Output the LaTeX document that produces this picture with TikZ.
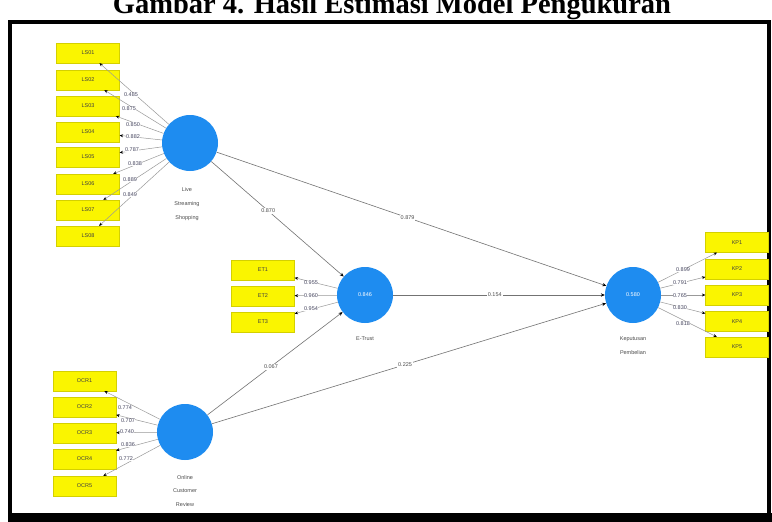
\documentclass[tikz,border=0pt]{standalone}
\usepackage{fontspec}
\setmainfont{Liberation Sans}
\newfontfamily\titlefont{Liberation Serif}
\usetikzlibrary{arrows.meta}
\definecolor{indyellow}{RGB}{250,245,0}
\definecolor{latblue}{RGB}{30,140,240}
\definecolor{ldtext}{RGB}{70,70,95}
\tikzset{
  ind/.style={rectangle, fill=indyellow, draw=indyellow!85!black, line width=0.2pt,
    minimum width=63pt, minimum height=20pt, inner sep=0pt,
    font=\fontsize{5.5}{6}\selectfont, text=black!75},
  lat/.style={circle, fill=latblue, minimum size=56pt, inner sep=0pt,
    font=\fontsize{5.5}{6}\selectfont, text=white},
  latlbl/.style={align=center, font=\fontsize{5.5}{13.8}\selectfont, text=black!70, inner sep=0pt},
  ld/.style={font=\fontsize{5.5}{6}\selectfont, text=ldtext, fill=white, inner sep=0.4pt},
  pc/.style={font=\fontsize{5.5}{6}\selectfont, text=black!70, fill=white, inner sep=1pt},
  ar/.style={draw=black!40, line width=0.5pt, -{Stealth[length=3.5pt,width=3pt,color=black]}},
  sar/.style={draw=black!55, line width=0.6pt, -{Stealth[length=4pt,width=3.4pt,color=black]}},
}
\begin{document}
\begin{tikzpicture}[x=1pt,y=-1pt]
\clip (0,0) rectangle (772,522);
\useasboundingbox (0,0) rectangle (772,522);
\fill[white] (0,0) rectangle (772,522);
% title
\node[anchor=base, inner sep=0pt, font=\titlefont\bfseries\fontsize{28.5}{30}\selectfont] (title) at (392,13) {Gambar 4. Hasil Estimasi Model Pengukuran};
% frame
\draw[line width=4pt, black] (10,21.5) rectangle (769,515);
\fill[black] (8,513) rectangle (772,522);

% latent variables
\node[lat] (LSS) at (190,143) {};
\node[lat] (ET) at (365,295) {0.846};
\node[lat] (KP) at (633,295) {0.580};
\node[lat] (OCR) at (185,432) {};

\node[latlbl] (LSSl) at (187,204) {Live\\Streaming\\Shopping};
\node[latlbl] (ETl) at (365,339) {E-Trust};
\node[latlbl] (KPl) at (633,345.5) {Keputusan\\Pembelian};
\node[latlbl] (OCRl) at (185,491) {Online\\Customer\\Review};

% LS indicators
\node[ind] (LS01) at (88,53) {LS01};
\node[ind] (LS02) at (88,80) {LS02};
\node[ind] (LS03) at (88,106) {LS03};
\node[ind] (LS04) at (88,132) {LS04};
\node[ind] (LS05) at (88,157) {LS05};
\node[ind] (LS06) at (88,184) {LS06};
\node[ind] (LS07) at (88,210) {LS07};
\node[ind] (LS08) at (88,236) {LS08};

% ET indicators
\node[ind] (ET1) at (263,270) {ET1};
\node[ind] (ET2) at (263,296) {ET2};
\node[ind] (ET3) at (263,322) {ET3};

% KP indicators
\node[ind] (KP1) at (737,242.5) {KP1};
\node[ind] (KP2) at (737,269) {KP2};
\node[ind] (KP3) at (737,295) {KP3};
\node[ind] (KP4) at (737,321.5) {KP4};
\node[ind] (KP5) at (737,347) {KP5};

% OCR indicators
\node[ind] (OCR1) at (84.5,381) {OCR1};
\node[ind] (OCR2) at (84.5,407) {OCR2};
\node[ind] (OCR3) at (84.5,433) {OCR3};
\node[ind] (OCR4) at (84.5,459) {OCR4};
\node[ind] (OCR5) at (84.5,486) {OCR5};

% outer loadings arrows
\foreach \i in {01,02,03,04,05,06,07,08} \draw[ar] (LSS) -- (LS\i);
\foreach \i in {1,2,3} \draw[ar] (ET) -- (ET\i);
\foreach \i in {1,2,3,4,5} \draw[ar] (KP) -- (KP\i);
\foreach \i in {1,2,3,4,5} \draw[ar] (OCR) -- (OCR\i);

% loading labels
\node[ld] (l1) at (131,95) {0.485};
\node[ld] (l2) at (129,109) {0.875};
\node[ld] (l3) at (133,124.5) {0.850};
\node[ld] (l4) at (133,136.5) {0.882};
\node[ld] (l5) at (132,149.5) {0.787};
\node[ld] (l6) at (135,164) {0.838};
\node[ld] (l7) at (130,180) {0.889};
\node[ld] (l8) at (130,194.5) {0.849};

\node[ld] (e1) at (311,283) {0.955};
\node[ld] (e2) at (311,296) {0.960};
\node[ld] (e3) at (311,309) {0.954};

\node[ld] (k1) at (683,270) {0.899};
\node[ld] (k2) at (680,283) {0.791};
\node[ld] (k3) at (680,295.5) {0.765};
\node[ld] (k4) at (680,308) {0.830};
\node[ld] (k5) at (683,324) {0.818};

\node[ld] (o1) at (125,408) {0.774};
\node[ld] (o2) at (128,421) {0.707};
\node[ld] (o3) at (127,432) {0.740};
\node[ld] (o4) at (128,445) {0.836};
\node[ld] (o5) at (126,459) {0.772};

% structural paths
\draw[sar] (LSS) -- node[pc, pos=0.43] (p1) {0.870} (ET);
\draw[sar] (LSS) -- node[pc, pos=0.49] (p2) {0.879} (KP);
\draw[sar] (ET) -- node[pc, pos=0.48] (p3) {0.154} (KP);
\draw[sar] (OCR) -- node[pc, pos=0.47] (p4) {0.067} (ET);
\draw[sar] (OCR) -- node[pc, pos=0.49] (p5) {0.225} (KP);
\end{tikzpicture}
\end{document}
